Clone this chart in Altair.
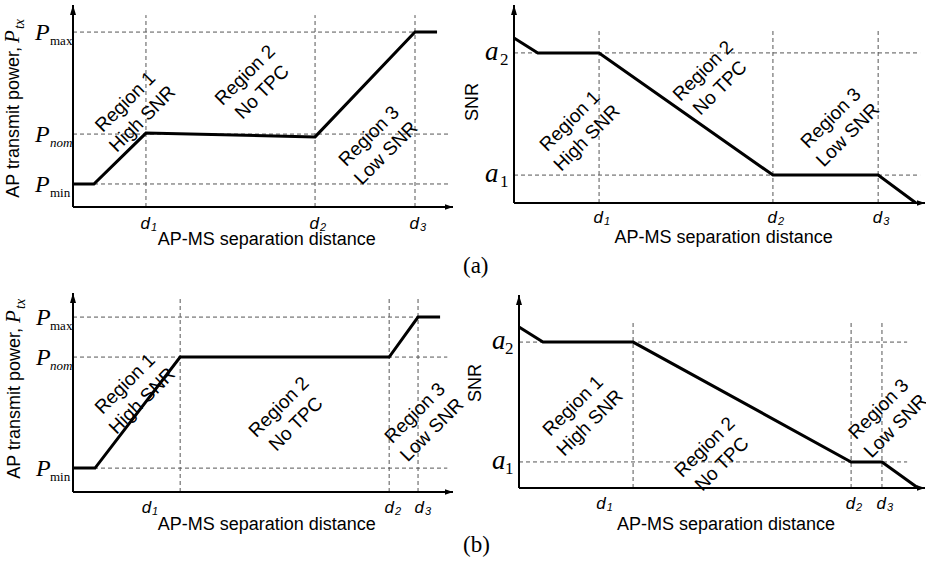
import altair as alt
import pandas as pd

# ---------------- text ----------------
REGION_TEXT = ["Region 1\nHigh SNR", "Region 2\nNo TPC", "Region 3\nLow SNR"]
D_SUBS = ["1", "2", "3"]
P_SUBS = ["min", "nom", "max"]
A_SUBS = ["1", "2"]
X_TITLE = "AP-MS separation distance"
Y_TITLE_PWR = ["AP transmit power,", "P", "tx"]
Y_TITLE_SNR = "SNR"
CAPTIONS = ["(a)", "(b)"]

# ---------------- (a) transmit power ----------------
A_PWR_X = [0.0, 0.055, 0.192, 0.637, 0.900, 0.958]
A_PWR_Y = [0.114, 0.114, 0.366, 0.347, 0.866, 0.866]
A_PWR_D = [0.192, 0.637, 0.900]
A_PWR_D_LABEL = [0.192, 0.637, 0.900]
A_PWR_D_TOP = 0.95
A_PWR_LEVELS = [0.114, 0.361, 0.866]
A_PWR_LEVEL_END = [0.99, 0.99, 0.90]
A_PWR_REG_X = [0.138, 0.453, 0.779]
A_PWR_REG_Y = [0.52, 0.653, 0.351]

# ---------------- (a) SNR ----------------
A_SNR_X = [0.0, 0.058, 0.207, 0.630, 0.886, 0.978]
A_SNR_Y = [0.833, 0.758, 0.758, 0.141, 0.141, 0.0]
A_SNR_D = [0.207, 0.630, 0.886]
A_SNR_D_LABEL = [0.207, 0.630, 0.886]
A_SNR_D_TOP = 0.874
A_SNR_LEVELS = [0.141, 0.758]
A_SNR_LEVEL_END = [0.988, 0.988]
A_SNR_REG_X = [0.136, 0.460, 0.771]
A_SNR_REG_Y = [0.414, 0.667, 0.429]

# ---------------- (b) transmit power ----------------
B_PWR_X = [0.0, 0.058, 0.282, 0.832, 0.908, 0.966]
B_PWR_Y = [0.120, 0.120, 0.678, 0.678, 0.879, 0.879]
B_PWR_D = [0.282, 0.832, 0.908]
B_PWR_D_LABEL = [0.195, 0.834, 0.913]
B_PWR_D_TOP = 0.98
B_PWR_LEVELS = [0.120, 0.678, 0.879]
B_PWR_LEVEL_END = [0.985, 0.985, 0.908]
B_PWR_REG_X = [0.137, 0.542, 0.900]
B_PWR_REG_Y = [0.543, 0.427, 0.397]

# ---------------- (b) SNR ----------------
B_SNR_X = [0.0, 0.059, 0.281, 0.818, 0.894, 0.983]
B_SNR_Y = [0.834, 0.756, 0.756, 0.135, 0.135, 0.0]
B_SNR_D = [0.281, 0.818, 0.894]
B_SNR_D_LABEL = [0.204, 0.818, 0.894]
B_SNR_D_TOP = 0.855
B_SNR_LEVELS = [0.135, 0.756]
B_SNR_LEVEL_END = [0.956, 0.956]
B_SNR_REG_X = [0.133, 0.458, 0.886]
B_SNR_REG_Y = [0.425, 0.212, 0.409]

# ---------------- layout (pixels) ----------------
LAYOUT = {
    "a_pwr": dict(xr=[73, 453], yr=[207, 5], sym_dx=-38, sub_dx=-23, sym_dy=8, sub_dy=13,
                  d_dy=22, t_dy=38, yt=[0.792, 0.812, 0.881], yt_dy=-54),
    "a_snr": dict(xr=[514, 925], yr=[203, 5], sym_dx=-29, sub_dx=-14, sym_dy=7, sub_dy=12,
                  d_dy=20, t_dy=40, yt=0.51, yt_dy=-36, cap_dx=-51, cap_dy=70),
    "b_pwr": dict(xr=[73, 453], yr=[492, 293], sym_dx=-37, sub_dx=-23, sym_dy=8, sub_dy=13,
                  d_dy=21, t_dy=38, yt=[0.824, 0.849, 0.92], yt_dy=-53),
    "b_snr": dict(xr=[519, 925], yr=[488, 295], sym_dx=-27, sub_dx=-14, sym_dy=7, sub_dy=12,
                  d_dy=21, t_dy=42, yt=0.544, yt_dy=-38, cap_dx=-56, cap_dy=64),
}

SANS = "Liberation Sans"
SERIF = "Liberation Serif"
ITALIC_SUBS = {"nom"}


def panel(lay, cx, cy, d, d_lab, d_top, levels, lev_end, reg_x, reg_y, kind, caption=None):
    xs = alt.Scale(domain=[0, 1], range=lay["xr"], nice=False, zero=False)
    ys = alt.Scale(domain=[0, 1], range=lay["yr"], nice=False, zero=False)
    X = alt.X("x:Q", scale=xs, axis=None)
    Y = alt.Y("y:Q", scale=ys, axis=None)
    L = []

    # dashed guides
    rows = [dict(x=v, x2=v, y=0, y2=d_top) for v in d]
    rows += [dict(x=0, x2=e, y=lv, y2=lv) for lv, e in zip(levels, lev_end)]
    L.append(alt.Chart(pd.DataFrame(rows)).mark_rule(
        color="#555555", strokeWidth=1, strokeDash=[4, 3]).encode(
        x=X, x2="x2:Q", y=Y, y2="y2:Q"))

    # axes
    ax = pd.DataFrame([dict(x=0, x2=1, y=0, y2=0), dict(x=0, x2=0, y=0, y2=1)])
    L.append(alt.Chart(ax).mark_rule(color="black", strokeWidth=2).encode(
        x=X, x2="x2:Q", y=Y, y2="y2:Q"))
    L.append(alt.Chart(pd.DataFrame([dict(x=0, y=1)])).mark_point(
        shape="M0,0L0.3,1L-0.3,1Z", size=400, filled=True, color="black", opacity=1).encode(x=X, y=Y))
    L.append(alt.Chart(pd.DataFrame([dict(x=1, y=0)])).mark_point(
        shape="M0,0L-1,-0.35L-1,0.35Z", size=256, filled=True, color="black", opacity=1).encode(x=X, y=Y))

    # curve
    cdf = pd.DataFrame(dict(x=cx, y=cy, o=list(range(len(cx)))))
    L.append(alt.Chart(cdf).mark_line(color="black", strokeWidth=3, strokeJoin="miter").encode(
        x=X, y=Y, order="o:Q"))

    # x tick labels d_i
    ddf = pd.DataFrame(dict(x=d_lab, y=[0] * len(d_lab), s=D_SUBS[:len(d_lab)], m=["d"] * len(d_lab)))
    L.append(alt.Chart(ddf).mark_text(font=SANS, fontStyle="italic", fontSize=17, align="right",
                                      baseline="alphabetic", dx=4, dy=lay["d_dy"], color="black").encode(
        x=X, y=Y, text="m:N"))
    L.append(alt.Chart(ddf).mark_text(font=SANS, fontStyle="italic", fontSize=11, align="left",
                                      baseline="alphabetic", dx=5, dy=lay["d_dy"] + 2, color="black").encode(
        x=X, y=Y, text="s:N"))

    # y tick labels
    if kind == "pwr":
        sym, subs = "P", P_SUBS
    else:
        sym, subs = "a", A_SUBS
    sdf = pd.DataFrame(dict(x=[0] * len(levels), y=levels, m=[sym] * len(levels), s=subs))
    L.append(alt.Chart(sdf).mark_text(font=SERIF, fontStyle="italic",
                                      fontSize=24 if kind == "pwr" else 27, align="left",
                                      baseline="alphabetic", dx=lay["sym_dx"], dy=lay["sym_dy"],
                                      color="black").encode(x=X, y=Y, text="m:N"))
    up = sdf[~sdf.s.isin(ITALIC_SUBS)]
    it = sdf[sdf.s.isin(ITALIC_SUBS)]
    sub_size = 13 if kind == "pwr" else 17
    L.append(alt.Chart(up).mark_text(font=SERIF, fontSize=sub_size, align="left", baseline="alphabetic",
                                     dx=lay["sub_dx"], dy=lay["sub_dy"], color="black").encode(
        x=X, y=Y, text="s:N"))
    if len(it):
        L.append(alt.Chart(it).mark_text(font=SERIF, fontStyle="italic", fontSize=sub_size, align="left",
                                         baseline="alphabetic", dx=lay["sub_dx"], dy=lay["sub_dy"],
                                         color="black").encode(x=X, y=Y, text="s:N"))

    # x title
    L.append(alt.Chart(pd.DataFrame([dict(x=0.51, y=0, t=X_TITLE)])).mark_text(
        font=SANS, fontSize=18, align="center", baseline="alphabetic", dy=lay["t_dy"], color="black").encode(
        x=X, y=Y, text="t:N"))

    # y title
    if kind == "pwr":
        yt = lay["yt"]
        L.append(alt.Chart(pd.DataFrame([dict(x=0, y=yt[0], t=Y_TITLE_PWR[0])])).mark_text(
            font=SANS, fontSize=18, angle=270, align="right", baseline="alphabetic",
            dy=lay["yt_dy"], color="black").encode(x=X, y=Y, text="t:N"))
        L.append(alt.Chart(pd.DataFrame([dict(x=0, y=yt[1], t=Y_TITLE_PWR[1])])).mark_text(
            font=SERIF, fontStyle="italic", fontSize=21, angle=270, align="left", baseline="alphabetic",
            dy=lay["yt_dy"], color="black").encode(x=X, y=Y, text="t:N"))
        L.append(alt.Chart(pd.DataFrame([dict(x=0, y=yt[2], t=Y_TITLE_PWR[2])])).mark_text(
            font=SERIF, fontStyle="italic", fontSize=14, angle=270, align="left", baseline="alphabetic",
            dy=lay["yt_dy"] + 5, color="black").encode(x=X, y=Y, text="t:N"))
    else:
        L.append(alt.Chart(pd.DataFrame([dict(x=0, y=lay["yt"], t=Y_TITLE_SNR)])).mark_text(
            font=SANS, fontSize=18, angle=270, align="center", baseline="alphabetic",
            dy=lay["yt_dy"], color="black").encode(x=X, y=Y, text="t:N"))

    # region labels
    rdf = pd.DataFrame(dict(x=reg_x, y=reg_y, t=REGION_TEXT))
    L.append(alt.Chart(rdf).mark_text(font=SANS, fontSize=19, angle=315, align="center",
                                      baseline="middle", lineBreak="\n", lineHeight=24,
                                      color="black").encode(x=X, y=Y, text="t:N"))

    # caption
    if caption is not None:
        L.append(alt.Chart(pd.DataFrame([dict(x=0, y=0, t=caption)])).mark_text(
            font=SERIF, fontSize=23, align="left", baseline="alphabetic",
            dx=lay["cap_dx"], dy=lay["cap_dy"], color="black").encode(x=X, y=Y, text="t:N"))
    return L


layers = []
layers += panel(LAYOUT["a_pwr"], A_PWR_X, A_PWR_Y, A_PWR_D, A_PWR_D_LABEL, A_PWR_D_TOP,
                A_PWR_LEVELS, A_PWR_LEVEL_END, A_PWR_REG_X, A_PWR_REG_Y, "pwr")
layers += panel(LAYOUT["a_snr"], A_SNR_X, A_SNR_Y, A_SNR_D, A_SNR_D_LABEL, A_SNR_D_TOP,
                A_SNR_LEVELS, A_SNR_LEVEL_END, A_SNR_REG_X, A_SNR_REG_Y, "snr", CAPTIONS[0])
layers += panel(LAYOUT["b_pwr"], B_PWR_X, B_PWR_Y, B_PWR_D, B_PWR_D_LABEL, B_PWR_D_TOP,
                B_PWR_LEVELS, B_PWR_LEVEL_END, B_PWR_REG_X, B_PWR_REG_Y, "pwr")
layers += panel(LAYOUT["b_snr"], B_SNR_X, B_SNR_Y, B_SNR_D, B_SNR_D_LABEL, B_SNR_D_TOP,
                B_SNR_LEVELS, B_SNR_LEVEL_END, B_SNR_REG_X, B_SNR_REG_Y, "snr", CAPTIONS[1])

chart = alt.layer(*layers).resolve_scale(x="independent", y="independent").properties(
    width=926, height=561, padding=0, background="white",
    autosize=alt.AutoSizeParams(type="none"),
).configure_view(stroke=None)

chart.save("out.html", embed_options={"renderer": "svg", "actions": False})
